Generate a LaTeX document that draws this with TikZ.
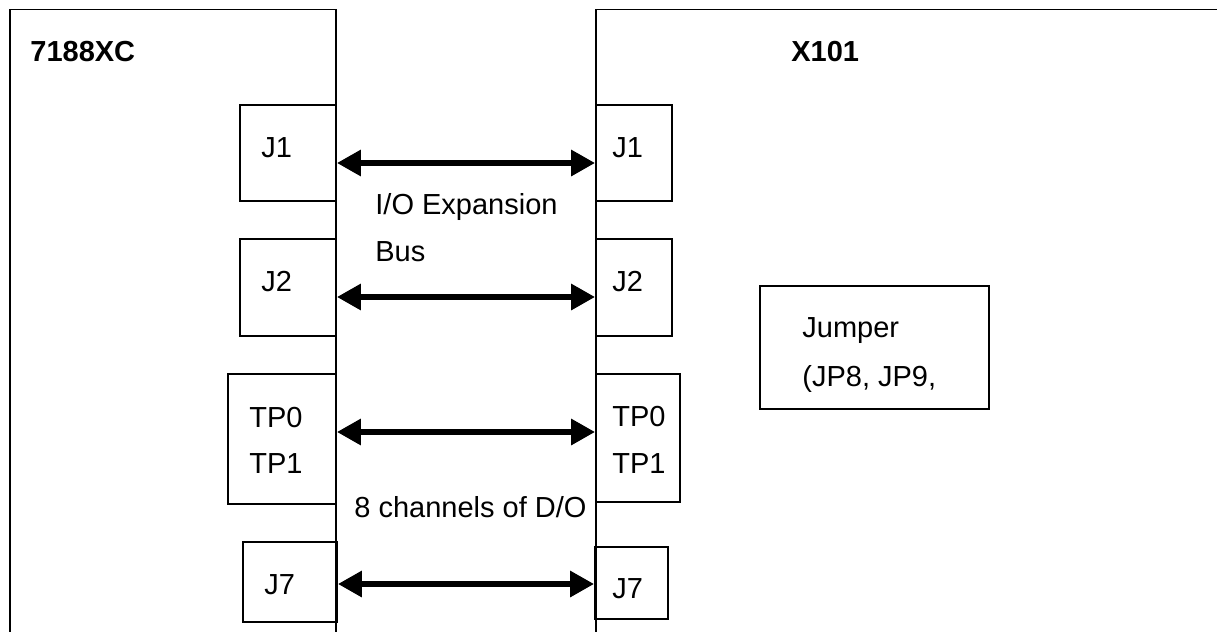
\documentclass[tikz,border=0pt]{standalone}
\usepackage{fontspec}
\setmainfont{Liberation Sans}
\usetikzlibrary{positioning, fit, arrows.meta}

\begin{document}
\begin{tikzpicture}[x=0.5pt,y=-0.5pt,
  board/.style={line width=0.9pt},
  conn/.style={draw, line width=0.9pt, inner sep=0pt},
  lbl/.style={anchor=base west, inner sep=0pt, font=\fontsize{14.5pt}{17pt}\selectfont},
  title/.style={lbl, font=\fontsize{14.5pt}{17pt}\selectfont\bfseries},
  bus/.style={line width=3.2pt, {Triangle[length=12pt,width=12.5pt]}-{Triangle[length=12pt,width=12.5pt]}}]
  \clip (0,0) rectangle (1217,632);

  % the two boards (cut off at the bottom / right)
  \draw[board] (10,650) |- (336,9.5) -- (336,650);
  \draw[board] (1240,9.5) -| (596,650);
  \node[title] (tLeft)  at (30,61)  {7188XC};
  \node[title] (tRight) at (791,61) {X101};

  % connectors
  \node[conn, fit={(240,105) (336,201)}] (lJ1) {};
  \node[conn, fit={(596,105) (672,201)}] (rJ1) {};
  \node[conn, fit={(240,239) (336,336)}] (lJ2) {};
  \node[conn, fit={(596,239) (672,336)}] (rJ2) {};
  \node[conn, fit={(228,374) (336,504)}] (lTP) {};
  \node[conn, fit={(596,374) (680,502)}] (rTP) {};
  \node[conn, fit={(243,542) (337,622)}] (lJ7) {};
  \node[conn, fit={(595,547) (668,619)}] (rJ7) {};
  \node[conn, fit={(760,286) (989,409)}] (jmp) {};

  \node[lbl] (lJ1t) at (261,157) {J1};
  \node[lbl] (rJ1t) at (612,157) {J1};
  \node[lbl] (lJ2t) at (261,291) {J2};
  \node[lbl] (rJ2t) at (612,291) {J2};
  \node[lbl] (lTPa) at (249,427) {TP0};
  \node[lbl] (lTPb) at (249,473) {TP1};
  \node[lbl] (rTPa) at (612,426) {TP0};
  \node[lbl] (rTPb) at (612,473) {TP1};
  \node[lbl] (lJ7t) at (264,594) {J7};
  \node[lbl] (rJ7t) at (612,598) {J7};
  \node[lbl] (jmpa) at (802,337) {Jumper};
  \node[lbl] (jmpb) at (802,386) {(JP8, JP9,};

  \node[lbl] (busa) at (375,214) {I/O Expansion};
  \node[lbl] (busb) at (375,261) {Bus};
  \node[lbl] (dout) at (354,517) {8 channels of D/O};

  % bus arrows
  \coordinate (yJ1) at (0,163);
  \coordinate (yJ2) at (0,297);
  \coordinate (yTP) at (0,432);
  \coordinate (yJ7) at (0,584);
  \draw[bus] (lJ1.east |- yJ1) -- (rJ1.west |- yJ1);
  \draw[bus] (lJ2.east |- yJ2) -- (rJ2.west |- yJ2);
  \draw[bus] (lTP.east |- yTP) -- (rTP.west |- yTP);
  \draw[bus] (lJ7.east |- yJ7) -- (rJ7.west |- yJ7);
\end{tikzpicture}
\end{document}
